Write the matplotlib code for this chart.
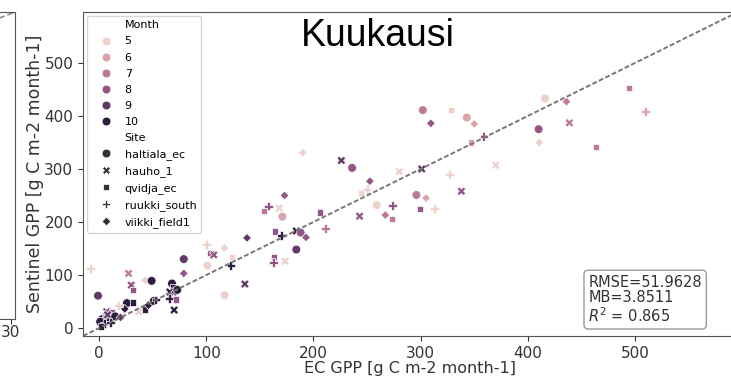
import matplotlib
matplotlib.use("Agg")
import matplotlib.pyplot as plt
import seaborn as sns
import pandas as pd

# ---- data ----
ec_gpp = [-8, -1, 27.5, 30, 32, 43, 49, 26, 32, 24,
          18, 7, 12, 3, 6, 10, 13, 1, 37, 43,
          46, 51, 53, 68, 69, 66, 71, 73, 66, 72,
          70, 79, 79, 100, 104, 107, 101, 117, 124, 123,
          136, 117, 138, 154, 158, 168, 171, 173, 164, 170,
          184, 188, 193, 163, 163, 173.5, 184, 190, 206, 211.5,
          226, 236, 252.6, 244, 250, 243, 259, 267, 273, 274,
          280, 296, 305, 299, 312.6, 301, 302, 309.5, 328, 326.6,
          338, 343, 350, 347, 359, 370, 416, 436, 494, 510,
          438.7, 410, 410.6, 463.6, 5, 8, 15, 20, 2, 11]
sentinel_gpp = [113, 61, 103, 81, 72, 90, 89, 47, 48, 36,
                43, 31, 31, 17, 19, 15, 18, 12, 31, 35,
                43, 51, 53, 84, 78, 68, 68, 72, 56, 54,
                34, 130, 103, 157, 141, 138, 118, 151, 134, 118,
                83, 62, 170, 221, 230, 226, 210, 250, 182, 174,
                183, 180, 171, 134, 124, 126, 148, 331, 218, 187,
                316, 302, 277, 254, 262, 211, 232, 213, 206, 231,
                295, 251, 245, 225, 226, 300, 411, 386, 411, 289,
                258, 397, 385, 350, 361, 307, 433, 427, 453, 409,
                387, 375, 350, 341, 8, 25, 22, 20, 3, 10]
month = [5, 9, 7, 8, 8, 5, 10, 10, 10, 10,
         5, 8, 8, 10, 10, 10, 10, 10, 5, 10,
         10, 10, 10, 10, 10, 10, 9, 10, 10, 8,
         10, 9, 8, 5, 8, 8, 5, 5, 5, 10,
         9, 5, 9, 7, 8, 5, 6, 8, 8, 10,
         10, 8, 8, 8, 8, 5, 9, 5, 8, 7,
         9, 8, 8, 5, 5, 8, 5, 7, 7, 8,
         5, 7, 6, 8, 5, 9, 7, 8, 5, 5,
         8, 6, 6, 6, 8, 5, 5, 7, 7, 6,
         7, 8, 5, 7, 10, 9, 10, 9, 10, 10]
site_code = ["R", "H", "A", "A", "Q", "V", "H", "H", "Q", "V",
             "R", "A", "Q", "H", "Q", "V", "R", "H", "A", "Q",
             "V", "H", "R", "H", "Q", "A", "V", "H", "R", "Q",
             "A", "H", "V", "R", "Q", "A", "H", "V", "Q", "R",
             "A", "H", "V", "Q", "R", "A", "H", "V", "Q", "R",
             "A", "H", "V", "Q", "R", "A", "H", "V", "Q", "R",
             "A", "H", "V", "Q", "R", "A", "H", "V", "Q", "R",
             "A", "H", "V", "Q", "R", "A", "H", "V", "Q", "R",
             "A", "H", "V", "Q", "R", "A", "H", "V", "Q", "R",
             "A", "H", "V", "Q", "R", "A", "H", "V", "Q", "R"]
site_names = {"H": "haltiala_ec", "A": "hauho_1", "Q": "qvidja_ec",
              "R": "ruukki_south", "V": "viikki_field1"}
site_order = ["haltiala_ec", "hauho_1", "qvidja_ec", "ruukki_south", "viikki_field1"]
stats_text = "RMSE=51.9628\nMB=3.8511\n$R^2$ = 0.865"
title_text = "Kuukausi"
xlabel = "EC GPP [g C m-2 month-1]"
ylabel = "Sentinel GPP [g C m-2 month-1]"
lims = (-15, 596)

df = pd.DataFrame({"EC": ec_gpp, "Sentinel": sentinel_gpp, "Month": month,
                   "Site": [site_names[c] for c in site_code]})

W, H = 731, 379
fig = plt.figure(figsize=(W / 100, H / 100), dpi=100)

def box(l, t, r, b):
    return [l / W, 1 - b / H, (r - l) / W, (b - t) / H]

# partial neighbouring panel at the far left
ax0 = fig.add_axes(box(-200, 12, 15, 319))
ax0.set_xlim(-15, 135)
ax0.set_ylim(-415, 135)
ax0.plot([-15, 135], [-15, 135], ls="--", color="#888888", lw=1.2)
ax0.set_xticks([132])
ax0.set_xticklabels(["30"])
ax0.set_yticks([])
ax0.tick_params(labelsize=11, colors="#333333", pad=1)
for s in ax0.spines.values():
    s.set_color("#555555")

# main panel
ax = fig.add_axes(box(83, 12, 738, 336))
cmap = sns.cubehelix_palette(as_cmap=True)
sns.scatterplot(data=df, x="EC", y="Sentinel", hue="Month", style="Site",
                style_order=site_order, palette=cmap, s=40, linewidth=0.5,
                legend="full", ax=ax)
ax.plot(lims, lims, ls="--", color="#777777", lw=1.4, dashes=(2.5, 1.2))
ax.set_xlim(lims)
ax.set_ylim(lims)
ax.set_xticks([0, 100, 200, 300, 400, 500])
ax.set_yticks([0, 100, 200, 300, 400, 500])
ax.tick_params(labelsize=11, colors="#333333")
ax.set_xlabel(xlabel, fontsize=11.5, color="#333333", labelpad=0)
ax.set_ylabel(ylabel, fontsize=12.5, color="#333333", labelpad=0)
for s in ax.spines.values():
    s.set_color("#555555")

sns.move_legend(ax, "upper left", fontsize=8, labelspacing=0.55,
                borderaxespad=0.35, handlelength=2.6, handletextpad=0.4,
                frameon=True, title=None)

ax.text(0.945, 0.035, stats_text, transform=ax.transAxes, ha="right", va="bottom",
        multialignment="left", fontsize=10.5, color="#333333", linespacing=1.05,
        bbox=dict(boxstyle="round,pad=0.3", facecolor="white", edgecolor="#999999"))

fig.text(378 / W, 1 - 36 / H, title_text, ha="center", va="center",
         fontsize=27, family="Liberation Sans", color="black")

fig.savefig("out.png", dpi=100)
